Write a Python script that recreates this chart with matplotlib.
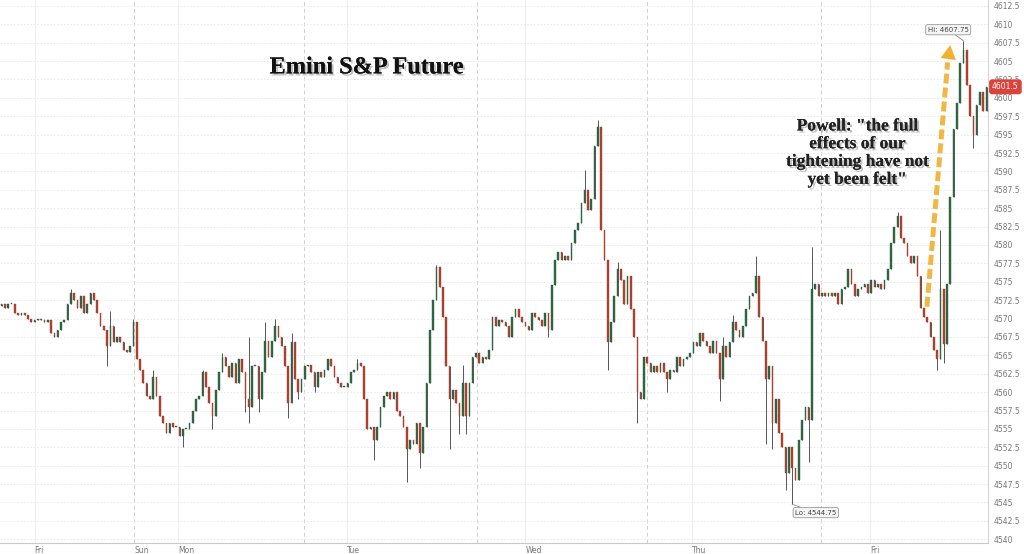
import numpy as np
import matplotlib
matplotlib.use("Agg")
import matplotlib.pyplot as plt
import matplotlib.patheffects as pe
from matplotlib.ticker import MultipleLocator, FuncFormatter

### Emini S&P future, bar closes (oldest first)
first_open = 4571.75
close_fri = [4572.0, 4571.5, 4572.0, 4572.0, 4570.75, 4570.5, 4570.75, 4570.5, 4570.0, 4569.5,
             4569.75, 4570.0, 4569.75, 4569.5, 4569.75, 4568.0, 4567.5, 4568.5, 4569.5, 4569.75,
             4572.0, 4573.5, 4572.5, 4571.5, 4573.0, 4570.75, 4572.0, 4573.5, 4572.5, 4570.75,
             4569.0, 4568.5, 4566.25, 4569.0, 4566.75, 4567.5, 4566.75, 4565.75, 4565.5, 4566.25,
             4569.5, 4564.5, 4563.0, 4561.25, 4559.5, 4559.0, 4562.0, 4559.5, 4556.75, 4555.75]
close_mon = [4554.5, 4555.75, 4555.25, 4555.25, 4554.0, 4555.0, 4555.0, 4555.75, 4557.5, 4559.0,
             4559.5, 4562.75, 4560.75, 4558.5, 4556.75, 4560.25, 4562.75, 4564.75, 4563.5, 4562.0,
             4564.0, 4561.25, 4564.5, 4562.75, 4559.0, 4558.0, 4563.5, 4563.5, 4559.0, 4562.75,
             4567.0, 4564.75, 4567.0, 4569.0, 4567.5, 4566.25, 4563.5, 4558.5, 4566.75, 4561.75,
             4560.0, 4561.75, 4563.5, 4563.75, 4562.75, 4560.75, 4562.75, 4562.0, 4563.0, 4564.5]
close_tue = [4563.5, 4562.0, 4561.25, 4560.75, 4560.75, 4561.25, 4562.75, 4563.0, 4564.0, 4563.5,
             4559.0, 4555.0, 4555.25, 4553.5, 4555.25, 4558.0, 4559.5, 4560.0, 4559.0, 4560.0,
             4557.5, 4556.75, 4555.25, 4552.25, 4553.5, 4553.0, 4555.75, 4551.75, 4555.25, 4561.25,
             4568.5, 4572.5, 4577.0, 4574.25, 4570.25, 4563.5, 4559.0, 4560.25, 4558.5, 4556.75,
             4561.25, 4556.75, 4561.25, 4564.75, 4565.25, 4564.0, 4564.75, 4564.5, 4565.75, 4570.25,
             4569.0]
close_wed = [4569.75, 4569.5, 4569.0, 4567.5, 4570.25, 4571.25, 4570.25, 4569.5, 4569.0, 4568.5,
             4570.75, 4570.25, 4569.75, 4569.0, 4570.75, 4568.5, 4574.5, 4578.0, 4579.0, 4578.0,
             4578.5, 4578.0, 4580.25, 4582.0, 4583.0, 4585.75, 4587.5, 4584.75, 4586.25, 4593.5,
             4596.0, 4582.0, 4578.0, 4566.75, 4569.5, 4573.0, 4576.75, 4575.25, 4572.0, 4575.75,
             4571.25, 4567.5, 4560.0, 4559.0, 4564.75, 4564.0, 4562.75, 4563.5, 4562.75]
close_thu = [4564.0, 4562.75, 4561.75, 4563.0, 4562.75, 4564.75, 4563.5, 4564.5, 4564.75, 4565.25,
             4566.75, 4566.25, 4568.0, 4567.0, 4566.25, 4565.25, 4567.0, 4565.25, 4561.75, 4566.25,
             4564.75, 4566.75, 4569.5, 4568.5, 4567.5, 4569.0, 4571.25, 4573.0, 4573.5, 4575.75,
             4570.25, 4567.0, 4561.75, 4563.5, 4555.75, 4559.0, 4554.5, 4552.5, 4549.0, 4552.5,
             4549.75, 4548.0, 4553.5, 4556.25, 4558.0, 4556.25, 4574.0, 4574.75, 4573.0, 4573.5]
close_fri2 = [4573.0, 4573.5, 4573.0, 4573.5, 4572.0, 4574.0, 4574.25, 4576.75, 4574.75, 4573.0,
              4574.0, 4574.25, 4574.75, 4573.5, 4575.25, 4574.25, 4574.75, 4574.0, 4575.25, 4576.75,
              4580.25, 4582.5, 4584.0, 4581.0, 4580.25, 4578.5, 4577.5, 4578.5, 4575.75, 4571.5,
              4570.25, 4569.5, 4567.5, 4565.75, 4564.5, 4574.0, 4566.5, 4574.75, 4586.5, 4595.75,
              4599.25, 4604.75, 4606.5, 4601.75, 4597.5, 4595.0, 4599.0, 4600.75, 4598.25, 4601.5]

### wick extremes that stick out beyond the bodies (bar index, price)
hi_idx = [21, 33, 40, 46, 61, 67, 75, 80, 83, 88, 108, 132, 140, 177, 181, 187, 219, 222, 229, 246, 272, 285, 292]
hi_val = [4574.0, 4571.0, 4570.0, 4563.0, 4563.0, 4565.25, 4567.5, 4569.5, 4570.0, 4568.0, 4564.5, 4577.25,
          4563.75, 4590.25, 4597.0, 4577.75, 4567.5, 4570.5, 4578.5, 4579.75, 4584.5, 4582.0, 4607.75]
lo_idx = [32, 55, 64, 74, 75, 78, 87, 90, 95, 113, 123, 127, 136, 139, 141, 166, 184, 193, 202, 218,
          232, 234, 238, 240, 245, 284, 286, 295]
lo_val = [4563.5, 4552.5, 4555.0, 4557.25, 4555.75, 4557.25, 4556.5, 4559.0, 4560.0, 4550.75, 4547.75,
          4549.75, 4552.25, 4554.25, 4554.25, 4567.5, 4563.0, 4555.75, 4560.0, 4558.75, 4553.0, 4552.25,
          4546.75, 4544.75, 4550.5, 4563.0, 4564.0, 4593.25]

### x axis (in bar index units)
day_pos = [10, 40.25, 53.5, 104.7, 159, 209.7, 263.7]
day_lab = ['Fri', 'Sun', 'Mon', 'Tue', 'Wed', 'Thu', 'Fri']
session_pos = [40.25, 91.7, 144.3, 196, 248.7]
midnight_pos = [10, 53.5, 104.7, 159, 209.7, 263.7]

close = np.array(close_fri + close_mon + close_tue + close_wed + close_thu + close_fri2)
n = len(close)
x = np.arange(n)
opn = np.concatenate([[first_open], close[:-1]])
high = np.maximum(opn, close)
low = np.minimum(opn, close)
high[hi_idx] = np.maximum(high[hi_idx], hi_val)
low[lo_idx] = np.minimum(low[lo_idx], lo_val)

fig = plt.figure(figsize=(10.24, 5.54), dpi=100)
ax = fig.add_axes([0.0, 0.02, 0.965, 0.98])
ax.set_xlim(-0.5, n - 0.5)
ax.set_ylim(4539.5, 4613.3)

# grid
ax.yaxis.set_major_locator(MultipleLocator(2.5))
ax.grid(axis='y', color='#e6e6e6', linestyle=(0, (2, 2)), linewidth=0.6)
for p in midnight_pos:
    ax.axvline(p, color='#efefef', linewidth=0.8, zorder=0)
for p in session_pos:
    ax.axvline(p, color='#cfcfcf', linestyle=(0, (4, 3)), linewidth=0.7, zorder=0)

# candles
up = close >= opn
up_col = '#2e6442'
dn_col = '#a8412f'
cols = np.where(up, up_col, dn_col)
ax.vlines(x, low, high, colors='#3a3a3a', linewidth=0.6, zorder=2)
ax.bar(x, np.maximum(np.abs(close - opn), 0.12), bottom=np.minimum(opn, close), width=0.5,
       color=cols, edgecolor=cols, linewidth=0.3, zorder=3)

# axes styling
for s in ['top', 'left']:
    ax.spines[s].set_visible(False)
ax.spines['right'].set_color('#d5d5d5')
ax.spines['bottom'].set_color('#c8c8c8')
ax.yaxis.tick_right()
ax.yaxis.set_major_formatter(FuncFormatter(lambda v, pos: ('%g' % v)))
ax.tick_params(axis='y', labelsize=5.5, colors='#777777', length=0, pad=4)
ax.set_xticks(day_pos)
ax.set_xticklabels(day_lab)
ax.tick_params(axis='x', labelsize=5.5, colors='#777777', length=0, pad=2)
for lab in ax.get_xticklabels():
    lab.set_horizontalalignment('left')

# hi / lo labels
ih = int(np.argmax(high))
il = int(np.argmin(low))
box = dict(boxstyle='round,pad=0.3', fc='#f4f4f4', ec='#999999', lw=0.6)
ax.annotate('Hi: %g' % high[ih], xy=(ih, high[ih]), xytext=(-11, 8), textcoords='offset points',
            ha='center', va='center', fontsize=5, color='#444444', bbox=box,
            arrowprops=dict(arrowstyle='-', color='#888888', lw=0.6, shrinkA=0, shrinkB=0), zorder=6)
ax.annotate('Lo: %g' % low[il], xy=(il, low[il]), xytext=(17, -6), textcoords='offset points',
            ha='center', va='center', fontsize=5, color='#444444', bbox=box,
            arrowprops=dict(arrowstyle='-', color='#888888', lw=0.6, shrinkA=0, shrinkB=0), zorder=6)

# last price tag
last = close[-1]
ax.text(1.004, last, '%g' % last, transform=ax.get_yaxis_transform(), ha='left', va='center',
        fontsize=5.5, color='white', clip_on=False, zorder=10,
        bbox=dict(boxstyle='round,pad=0.3', fc='#d9433b', ec='#d9433b'))

# title and comment
shadow = [pe.withSimplePatchShadow(offset=(1.5, -1.5), shadow_rgbFace='#777777', alpha=0.45), pe.Normal()]
ax.text(0.371, 0.875, 'Emini S&P Future', transform=ax.transAxes, ha='center', va='center',
        fontsize=17.5, fontweight='bold', family='Liberation Serif', color='#111111', path_effects=shadow)
ax.text(0.868, 0.718, 'Powell: "the full\neffects of our\ntightening have not\nyet been felt"',
        transform=ax.transAxes, ha='center', va='center', fontsize=12.5, fontweight='bold',
        family='Liberation Serif', color='#222222', linespacing=1.15, path_effects=shadow)

# dashed arrow
arr_col = '#f0b030'
ax.plot([0.938, 0.959], [0.435, 0.885], transform=ax.transAxes, color=arr_col, lw=3.6,
        linestyle=(0, (2, 0.8)), solid_capstyle='butt', zorder=7, alpha=0.9)
ax.annotate('', xy=(0.962, 0.922), xytext=(0.958, 0.87), xycoords='axes fraction',
            arrowprops=dict(arrowstyle='-|>,head_width=0.55,head_length=1.0', color=arr_col, lw=0.1),
            zorder=7)

fig.savefig('out.png', dpi=100)
